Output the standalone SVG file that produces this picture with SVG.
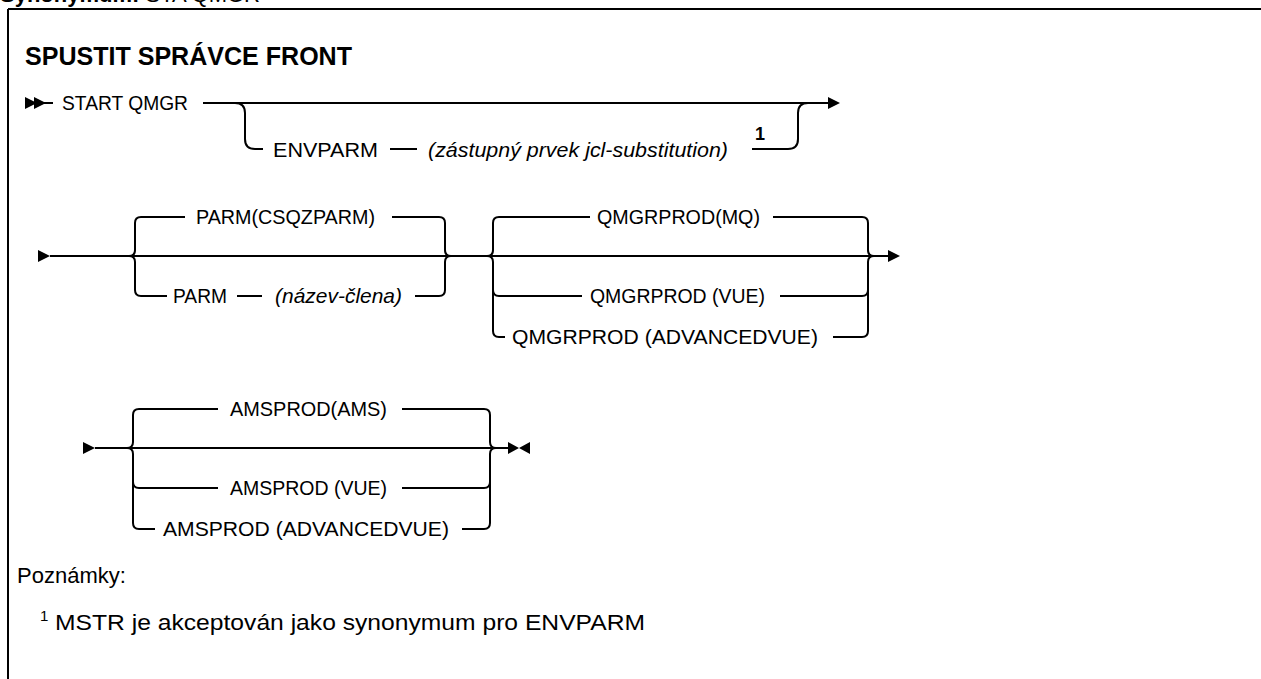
<svg xmlns="http://www.w3.org/2000/svg" width="1261" height="679" viewBox="0 0 1261 679">
  <style>
    .ln { fill: none; stroke: #000; stroke-width: 2; }
    .t { font-family: "Liberation Sans", Arial, sans-serif; font-size: 21px; fill: #000; }
    .i { font-style: italic; }
    .b { font-weight: bold; }
    .note { font-family: "Liberation Sans", Arial, sans-serif; font-size: 22px; fill: #000; }
    .head { fill: #000; }
  </style>
  <defs>
    <path id="tri" d="M0,-6 L12,0 L0,6 Z" class="head"/>
  </defs>

  <!-- heading above the frame, clipped at the top edge -->
  <text x="0" y="2" class="note"><tspan class="b">Synonymum:</tspan> STA QMGR</text>

  <!-- frame -->
  <g id="frame">
    <path class="ln" d="M8,9 H1261 M8,9 V679"/>
  </g>

  <g id="title">
    <text x="25" y="65" class="t b" style="font-size:25px" textLength="327" lengthAdjust="spacingAndGlyphs">SPUSTIT SPRÁVCE FRONT</text>
  </g>

  <!-- connectors: main rails, branch brackets, arrowheads -->
  <g id="connectors">
    <!-- row 1 -->
    <use href="#tri" x="25" y="103"/>
    <use href="#tri" x="34" y="103"/>
    <path class="ln" d="M43,103 H53"/>
    <path class="ln" d="M203,103 H830"/>
    <use href="#tri" x="828" y="103"/>
    <path class="ln" d="M235,103 Q245,103 245,113 V139 Q245,149 255,149 H263"/>
    <path class="ln" d="M390,149 H417"/>
    <path class="ln" d="M752,149 H788 Q798,149 798,139 V113 Q798,103 808,103"/>

    <!-- row 2 -->
    <use href="#tri" x="38" y="256"/>
    <path class="ln" d="M50,256 H890"/>
    <use href="#tri" x="888" y="256"/>
    <!-- group PARM -->
    <path class="ln" d="M129,256 Q135,256 135,250 V223 Q135,217 141,217 H185"/>
    <path class="ln" d="M129,256 Q135,256 135,262 V290 Q135,296 141,296 H167"/>
    <path class="ln" d="M237,296 H262"/>
    <path class="ln" d="M392,217 H439 Q445,217 445,223 V250 Q445,256 451,256"/>
    <path class="ln" d="M415,296 H439 Q445,296 445,290 V262 Q445,256 451,256"/>
    <!-- group QMGRPROD -->
    <path class="ln" d="M487,256 Q493,256 493,250 V223 Q493,217 499,217 H590"/>
    <path class="ln" d="M487,256 Q493,256 493,262 V331 Q493,337 499,337 H505"/>
    <path class="ln" d="M493,290 Q493,296 499,296 H582"/>
    <path class="ln" d="M773,217 H862 Q868,217 868,223 V250 Q868,256 874,256"/>
    <path class="ln" d="M833,337 H862 Q868,337 868,331 V262 Q868,256 874,256"/>
    <path class="ln" d="M780,296 H862 Q868,296 868,290"/>

    <!-- row 3 -->
    <use href="#tri" x="83" y="448"/>
    <path class="ln" d="M95,448 H508"/>
    <path class="ln" d="M127,448 Q133,448 133,442 V415 Q133,409 139,409 H218"/>
    <path class="ln" d="M127,448 Q133,448 133,454 V523 Q133,529 139,529 H155"/>
    <path class="ln" d="M133,482 Q133,488 139,488 H218"/>
    <path class="ln" d="M402,409 H484 Q490,409 490,415 V442 Q490,448 496,448"/>
    <path class="ln" d="M462,529 H484 Q490,529 490,523 V454 Q490,448 496,448"/>
    <path class="ln" d="M402,488 H484 Q490,488 490,482"/>
    <!-- end-of-statement bowtie -->
    <path class="head" d="M508,442 L519,448 L508,454 Z M530,442 L519,448 L530,454 Z"/>
  </g>

  <!-- syntax elements -->
  <g id="start-qmgr"><text x="62" y="110" class="t" textLength="126" lengthAdjust="spacingAndGlyphs">START QMGR</text></g>
  <g id="envparm">
    <text x="273" y="157" class="t" textLength="105" lengthAdjust="spacingAndGlyphs">ENVPARM</text>
    <text x="428" y="157" class="t i" textLength="300" lengthAdjust="spacingAndGlyphs">(zástupný prvek jcl-substitution)</text>
    <text x="755" y="140" class="t b" style="font-size:18px">1</text>
  </g>
  <g id="parm-default"><text x="196" y="224" class="t" textLength="179" lengthAdjust="spacingAndGlyphs">PARM(CSQZPARM)</text></g>
  <g id="parm-member">
    <text x="173" y="303" class="t" textLength="54" lengthAdjust="spacingAndGlyphs">PARM</text>
    <text x="275" y="303" class="t i" textLength="127" lengthAdjust="spacingAndGlyphs">(název-člena)</text>
  </g>
  <g id="qmgrprod-mq"><text x="597" y="224" class="t" textLength="163" lengthAdjust="spacingAndGlyphs">QMGRPROD(MQ)</text></g>
  <g id="qmgrprod-vue"><text x="590" y="303" class="t" textLength="175" lengthAdjust="spacingAndGlyphs">QMGRPROD (VUE)</text></g>
  <g id="qmgrprod-advancedvue"><text x="512" y="344" class="t" textLength="306" lengthAdjust="spacingAndGlyphs">QMGRPROD (ADVANCEDVUE)</text></g>
  <g id="amsprod-ams"><text x="230" y="416" class="t" textLength="157" lengthAdjust="spacingAndGlyphs">AMSPROD(AMS)</text></g>
  <g id="amsprod-vue"><text x="230" y="495" class="t" textLength="157" lengthAdjust="spacingAndGlyphs">AMSPROD (VUE)</text></g>
  <g id="amsprod-advancedvue"><text x="163" y="536" class="t" textLength="286" lengthAdjust="spacingAndGlyphs">AMSPROD (ADVANCEDVUE)</text></g>

  <!-- notes -->
  <g id="notes">
    <text x="17" y="583" class="note">Poznámky:</text>
    <text x="40" y="621" class="note" style="font-size:15px">1</text>
    <text x="55" y="630" class="note" textLength="590" lengthAdjust="spacingAndGlyphs">MSTR je akceptován jako synonymum pro ENVPARM</text>
  </g>
</svg>
